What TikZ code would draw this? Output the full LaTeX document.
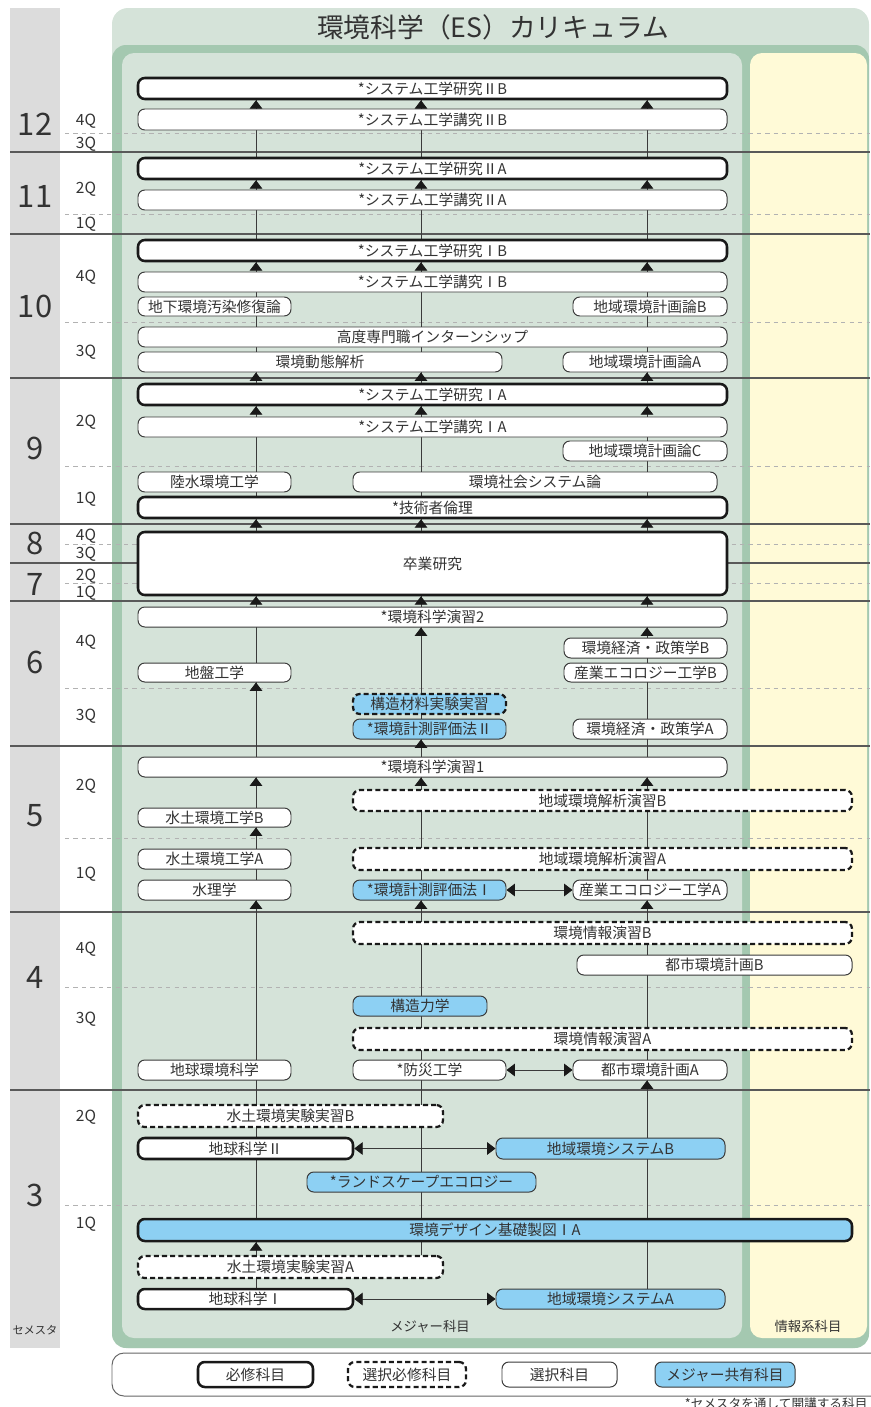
\documentclass[tikz,border=0pt]{standalone}
\usepackage{fontspec}
\setmainfont{Noto Sans CJK JP}
\usetikzlibrary{arrows.meta}
\definecolor{panelgreen}{HTML}{D5E3D9}
\definecolor{framegreen}{HTML}{A4C8B0}
\definecolor{infoyellow}{HTML}{FFFAD7}
\definecolor{semgray}{HTML}{DCDCDC}
\definecolor{sharedblue}{HTML}{8DD0F3}
\definecolor{inkgray}{HTML}{333333}
\definecolor{edgegray}{HTML}{3A3A3A}
\pgfdeclarelayer{back}
\pgfdeclarelayer{grid}
\pgfsetlayers{back,grid,main}
\tikzset{
	course/.style={rounded corners=0.17cm, fill=white, inner sep=0pt, text=inkgray, font=\fontsize{10.5}{10.5}\selectfont},
	reqbox/.style={course, draw=black!90, line width=1.8pt},
	optreqbox/.style={course, draw=black!90, line width=1.6pt, dash pattern=on 3.6pt off 2.2pt},
	optbox/.style={course, draw=edgegray, line width=0.7pt},
	sharedbox/.style={optbox, fill=sharedblue},
	link/.style={draw=edgegray, line width=0.6pt},
	arr/.style={link, -{Triangle[width=9pt,length=6pt,fill=black!90,color=black!90]}},
	dblarr/.style={link, {Triangle[width=9pt,length=6pt,fill=black!90,color=black!90]}-{Triangle[width=9pt,length=6pt,fill=black!90,color=black!90]}},
	yearline/.style={draw=black!65, line width=0.8pt},
	qline/.style={draw=black!30, line width=0.6pt, dash pattern=on 3pt off 3pt},
}
\def\kamoku[#1](#2)(#3,#4)(#5,#6)#7{\node[#1, minimum width={(#5-#3)*0.025cm}, minimum height={(#6-#4)*0.025cm}] (#2) at ({(#3+#5)/2},{(#4+#6)/2}) {#7};}

\begin{document}
\begin{tikzpicture}[x=0.025cm, y=-0.025cm]
		%%%%% START %%%%%
		\useasboundingbox (0,0) rectangle (870,1407);
		
		\begin{pgfonlayer}{back}
			\fill[semgray] (10,8) rectangle (60,1348);
			\fill[panelgreen, rounded corners=0.4cm] (112,8) rectangle (869,1348);
			\fill[framegreen, rounded corners=0.35cm] (112,45) rectangle (869,1348);
			\fill[panelgreen, rounded corners=0.3cm] (122,53) rectangle (742,1338);
			\fill[infoyellow, rounded corners=0.3cm] (750,53) rectangle (867,1338);
		\end{pgfonlayer}
		
		\node[text=inkgray, font=\fontsize{19}{19}\selectfont] (title) at (493,27) {環境科学（ES）カリキュラム};
		
		\begin{pgfonlayer}{grid}
			\foreach \y in {152,234,378,524,563,601,746,912,1090}
				\draw[yearline] (10,\y) -- (870,\y);
			\foreach \y in {133,214,322,466,544,583,688,838,987,1205}
				\draw[qline] (65,\y) -- (870,\y);
		\end{pgfonlayer}
		
		\foreach \n/\y in {12/124,11/196,10/306,9/448,8/543,7/584,6/662,5/816,4/977,3/1195}
			\node[text=inkgray, font=\fontsize{22}{22}\selectfont] (year\n) at (35,\y) {\n};
		\foreach \q/\y [count=\i] in {4Q/121,3Q/144,2Q/189,1Q/224,4Q/277,3Q/352,2Q/422,1Q/499,4Q/536,3Q/554,2Q/576,1Q/593,4Q/642,3Q/716,2Q/786,1Q/874,4Q/949,3Q/1019,2Q/1117,1Q/1224}
			\node[text=inkgray, font=\fontsize{11}{11}\selectfont] (quarter\i) at (86,\y) {\q};
		\node[text=inkgray, font=\fontsize{8}{8}\selectfont] (semester) at (35,1330) {セメスタ};
		\node[text=inkgray, font=\fontsize{9.5}{9.5}\selectfont] (major) at (430,1326) {メジャー科目};
		\node[text=inkgray, font=\fontsize{9.5}{9.5}\selectfont] (info) at (808,1326) {情報系科目};
		
		% year 12, 11
		\kamoku[reqbox](kenIIB)(138,78)(727,99){*システム工学研究ⅡB}
		\kamoku[optbox](koIIB)(138,109)(727,130){*システム工学講究ⅡB}
		\kamoku[reqbox](kenIIA)(138,158)(727,179){*システム工学研究ⅡA}
		\kamoku[optbox](koIIA)(138,190)(727,210){*システム工学講究ⅡA}
		
		% year 10, 9
		\kamoku[reqbox](kenIB)(138,240)(727,261){*システム工学研究ⅠB}
		\kamoku[optbox](koIB)(138,272)(727,292){*システム工学講究ⅠB}
		\kamoku[optbox](soil)(138,297)(291,316){地下環境汚染修復論}
		\kamoku[optbox](planB)(573,297)(727,316){地域環境計画論B}
		\kamoku[optbox](intern)(138,327)(727,347){高度専門職インターンシップ}
		\kamoku[optbox](dynamics)(138,352)(502,372){環境動態解析}
		\kamoku[optbox](planA)(563,352)(727,372){地域環境計画論A}
		\kamoku[reqbox](kenIA)(138,384)(727,405){*システム工学研究ⅠA}
		\kamoku[optbox](koIA)(138,417)(727,437){*システム工学講究ⅠA}
		\kamoku[optbox](planC)(563,441)(727,461){地域環境計画論C}
		\kamoku[optbox](inland)(138,472)(291,492){陸水環境工学}
		\kamoku[optbox](society)(353,472)(717,492){環境社会システム論}
		\kamoku[reqbox](ethics)(138,497)(727,518){*技術者倫理}
		
		% year 8, 7
		\kamoku[reqbox](thesis)(138,532)(727,595){卒業研究}
		
		% year 6, 5
		\kamoku[optbox](exII)(138,607)(727,627){*環境科学演習2}
		\kamoku[optbox](econB)(564,638)(727,658){環境経済・政策学B}
		\kamoku[optbox](ground)(138,663)(291,682){地盤工学}
		\kamoku[optbox](indEcoB)(564,663)(727,682){産業エコロジー工学B}
		\kamoku[optreqbox, fill=sharedblue](matLab)(353,694)(506,714){構造材料実験実習}
		\kamoku[sharedbox](measII)(353,719)(506,739){*環境計測評価法Ⅱ}
		\kamoku[optbox](econA)(573,719)(727,739){環境経済・政策学A}
		\kamoku[optbox](exI)(138,757)(727,777){*環境科学演習1}
		\kamoku[optreqbox](regAnaB)(353,790)(852,811){地域環境解析演習B}
		\kamoku[optbox](waterB)(138,808)(291,827){水土環境工学B}
		\kamoku[optbox](waterA)(138,849)(291,869){水土環境工学A}
		\kamoku[optreqbox](regAnaA)(353,848)(852,870){地域環境解析演習A}
		\kamoku[optbox](hydraulics)(138,880)(291,900){水理学}
		\kamoku[sharedbox](measI)(353,880)(506,900){*環境計測評価法Ⅰ}
		\kamoku[optbox](indEcoA)(573,880)(727,900){産業エコロジー工学A}
		
		% year 4, 3
		\kamoku[optreqbox](infoB)(353,922)(852,944){環境情報演習B}
		\kamoku[optbox](urbanB)(577,955)(852,975){都市環境計画B}
		\kamoku[sharedbox](structure)(353,996)(487,1016){構造力学}
		\kamoku[optreqbox](infoA)(353,1028)(852,1050){環境情報演習A}
		\kamoku[optbox](earthEnv)(138,1060)(291,1080){地球環境科学}
		\kamoku[optbox](disaster)(353,1060)(506,1080){*防災工学}
		\kamoku[optbox](urbanA)(573,1060)(727,1080){都市環境計画A}
		\kamoku[optreqbox](hydroExpB)(138,1105)(443,1127){水土環境実験実習B}
		\kamoku[reqbox](geoII)(138,1138)(353,1159){地球科学Ⅱ}
		\kamoku[sharedbox](regSysB)(496,1138)(725,1159){地域環境システムB}
		\kamoku[sharedbox](landscape)(307,1172)(536,1192){*ランドスケープエコロジー}
		\kamoku[reqbox, fill=sharedblue](design)(138,1219)(852,1241){環境デザイン基礎製図ⅠA}
		\kamoku[optreqbox](hydroExpA)(138,1256)(443,1278){水土環境実験実習A}
		\kamoku[reqbox](geoI)(138,1289)(353,1309){地球科学Ⅰ}
		\kamoku[sharedbox](regSysA)(496,1289)(725,1309){地域環境システムA}
		
		% flow lines
		\coordinate (colA) at (256,0);
		\coordinate (colB) at (421,0);
		\coordinate (colC) at (647,0);
		\begin{pgfonlayer}{grid}
			\draw[link] (geoI.north -| colA) -- (kenIIB.south -| colA);
			\draw[link] (hydroExpA.north -| colB) -- (kenIIB.south -| colB);
			\draw[link] (regSysA.north -| colC) -- (kenIIB.south -| colC);
		\end{pgfonlayer}
		
		\foreach \lo/\hi in {koIIB/kenIIB,koIIA/kenIIA,koIB/kenIB,koIA/kenIA,thesis/ethics,exII/thesis}
			\foreach \c in {colA,colB,colC}
				\draw[arr] (\lo.north -| \c) -- (\hi.south -| \c);
		\draw[arr] (kenIA.north -| colA) -- (dynamics.south -| colA);
		\draw[arr] (kenIA.north -| colB) -- (dynamics.south -| colB);
		\draw[arr] (kenIA.north -| colC) -- (planA.south -| colC);
		
		\draw[arr] (exI.north -| colA) -- (ground.south -| colA);
		\draw[arr] (waterB.north -| colA) -- (exI.south -| colA);
		\draw[arr] (waterA.north -| colA) -- (waterB.south -| colA);
		\draw[arr] (earthEnv.north -| colA) -- (hydraulics.south -| colA);
		\draw[arr] (hydroExpA.north -| colA) -- (design.south -| colA);
		
		\draw[arr] (matLab.north -| colB) -- (exII.south -| colB);
		\draw[arr] (exI.north -| colB) -- (measII.south -| colB);
		\draw[arr] (regAnaB.north -| colB) -- (exI.south -| colB);
		\draw[arr] (infoB.north -| colB) -- (measI.south -| colB);
		
		\draw[arr] (econB.north -| colC) -- (exII.south -| colC);
		\draw[arr] (regAnaB.north -| colC) -- (exI.south -| colC);
		\draw[arr] (infoB.north -| colC) -- (indEcoA.south -| colC);
		\draw[arr] (regSysB.north -| colC) -- (urbanA.south -| colC);
		
		\draw[dblarr] (measI.east) -- (indEcoA.west);
		\draw[dblarr] (disaster.east) -- (urbanA.west);
		\draw[dblarr] (geoII.east) -- (regSysB.west);
		\draw[dblarr] (geoI.east) -- (regSysA.west);
		
		% legend
		\draw[fill=white, draw=black!60, line width=0.7pt, rounded corners=0.3cm] (112,1353) rectangle (890,1396);
		\kamoku[reqbox](legReq)(198,1362)(313,1387){必修科目}
		\kamoku[optreqbox](legOptReq)(348,1362)(466,1387){選択必修科目}
		\kamoku[optbox](legOpt)(502,1362)(617,1387){選択科目}
		\kamoku[sharedbox](legShared)(655,1362)(795,1387){メジャー共有科目}
		\node[anchor=west, text=inkgray, font=\fontsize{9}{9}\selectfont] (note) at (680,1404) {*セメスタを通して開講する科目};
		
		%%%%% END %%%%%
\end{tikzpicture}
\end{document}
